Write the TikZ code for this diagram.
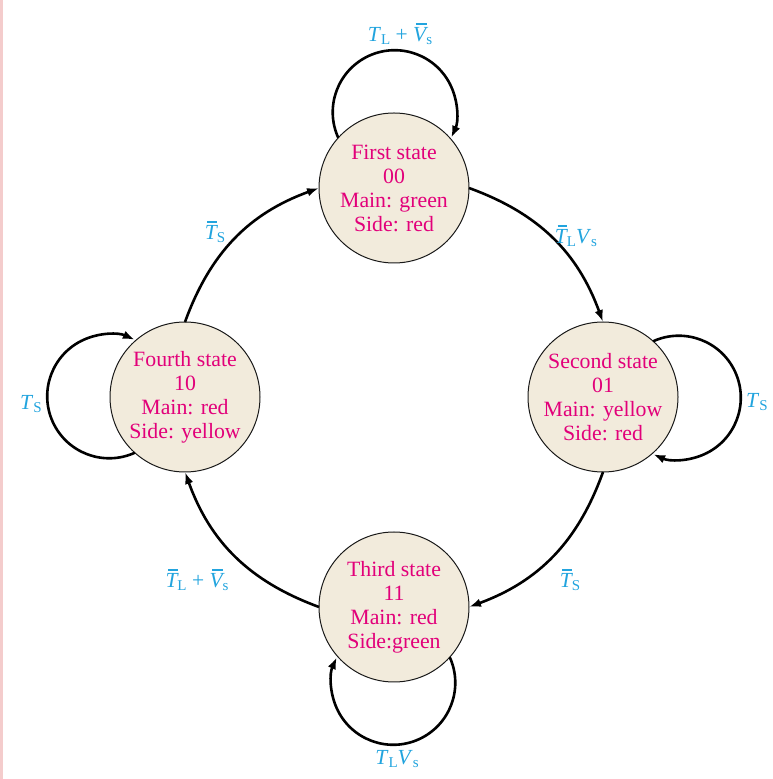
\documentclass[tikz,border=0pt]{standalone}
\usepackage{fontspec}
\setmainfont{Liberation Serif}
\usetikzlibrary{arrows.meta}
\definecolor{txtc}{HTML}{E2007A}
\definecolor{lblc}{HTML}{22A4DE}
\definecolor{fillc}{HTML}{F2EBDC}
\definecolor{stripc}{HTML}{F4CCCC}
\newsavebox\ovlbox
\newcommand\ovl[1]{\leavevmode\sbox\ovlbox{\itshape #1}\rlap{\kern2.6pt\rule[\dimexpr\ht\ovlbox+2.6pt\relax]{\dimexpr\wd\ovlbox-2.2pt\relax}{1.3pt}}\usebox\ovlbox}
\newcommand\sbs[1]{\raisebox{-0.35ex}{\fontsize{15}{15}\selectfont #1}}
\newcommand\itl[1]{\textit{#1}}
\tikzset{
  state/.style={circle, draw=black!90, line width=1pt, fill=fillc, minimum size=150pt,
    inner sep=0pt, outer sep=0pt, text=txtc, align=center, font=\fontsize{21.8}{24}\selectfont},
  edge/.style={line width=2.6pt, -{Latex[length=12pt,width=8.5pt]}},
  lab/.style={text=lblc, font=\fontsize{21.5}{24}\selectfont, inner sep=0pt}
}
\begin{document}
\begin{tikzpicture}[x=1pt,y=1pt]
\useasboundingbox (0,0) rectangle (773,779);
\fill[stripc] (0,0) rectangle (3,779);
\node[state] (s1) at (394,591) {First state\\00\\Main: green\\Side: red};
\node[state] (s2) at (603,382) {Second state\\01\\Main: yellow\\Side: red};
\node[state] (s3) at (394,172) {Third state\\11\\Main: red\\Side:green};
\node[state] (s4) at (185,382) {Fourth state\\10\\Main: red\\Side: yellow};
% ring transitions
\draw[edge] (s1.east) to[bend left=25] (s2.north);
\draw[edge] (s2.south) to[bend left=25] (s3.east);
\draw[edge] (s3.west) to[bend left=25] (s4.south);
\draw[edge] (s4.north) to[bend left=25] (s1.west);
% self loops
\draw[edge] (s1.138.8) arc[start angle=204.4, end angle=-24.4, radius=62];
\draw[edge] (s2.48.8) arc[start angle=114.4, end angle=-114.4, radius=62];
\draw[edge] (s3.318.8) arc[start angle=24.4, end angle=-204.4, radius=62];
\draw[edge] (s4.228.8) arc[start angle=294.4, end angle=65.6, radius=62];
% labels
\node[lab] (l1) at (400,745) {\itl{T}\sbs{L} + \ovl{V}\sbs{s}};
\node[lab] (l2) at (757,377) {\itl{T}\sbs{S}};
\node[lab] (l3) at (397,20) {\itl{T}\sbs{L}\itl{V}\sbs{s}};
\node[lab] (l4) at (31,375) {\itl{T}\sbs{S}};
\node[lab] (l5) at (215,547) {\ovl{T}\sbs{S}};
\node[lab] (l6) at (576,543) {\ovl{T}\sbs{L}\itl{V}\sbs{s}};
\node[lab] (l7) at (570,199) {\ovl{T}\sbs{S}};
\node[lab] (l8) at (197,199) {\ovl{T}\sbs{L} + \ovl{V}\sbs{s}};
\end{tikzpicture}
\end{document}
